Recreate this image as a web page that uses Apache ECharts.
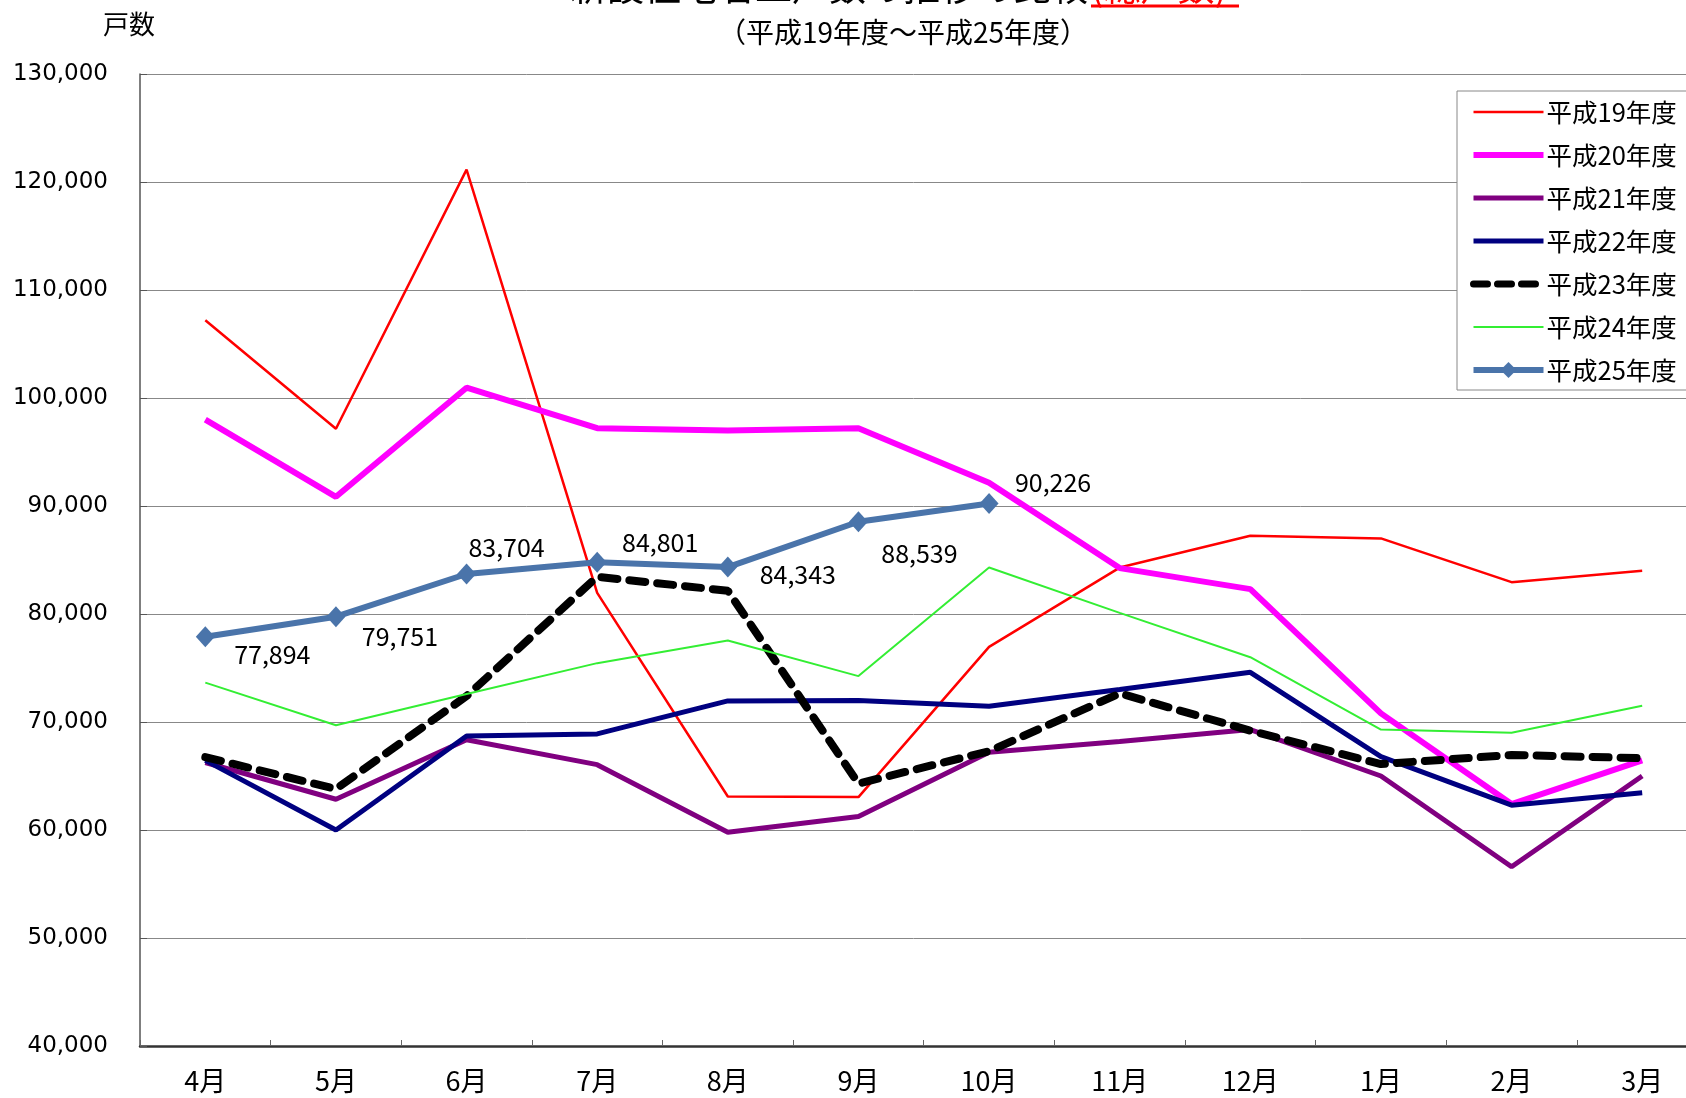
<!DOCTYPE html>
<html>
<head>
<meta charset="utf-8">
<script src="https://cdn.jsdelivr.net/npm/echarts@6/dist/echarts.min.js"></script>
<style>
html,body{margin:0;padding:0;background:#fff;}
#main{width:1686px;height:1098px;}
</style>
</head>
<body>
<div id="main"></div>
<script>
const months = ['4月','5月','6月','7月','8月','9月','10月','11月','12月','1月','2月','3月'];
const seriesNames = ['平成19年度','平成20年度','平成21年度','平成22年度','平成23年度','平成24年度','平成25年度'];
const h19 = [107200, 97150, 121150, 81950, 63100, 63050, 76950, 84300, 87250, 87000, 82950, 84000];
const h20 = [98000, 90850, 100950, 97200, 97000, 97200, 92150, 84250, 82300, 70800, 62400, 66450];
const h21 = [66250, 62850, 68350, 66050, 59800, 61250, 67200, 68200, 69300, 65000, 56600, 65000];
const h22 = [66450, 60000, 68700, 68900, 71950, 72000, 71450, 73000, 74600, 66800, 62300, 63450];
const h23 = [66750, 63800, 72400, 83450, 82150, 64300, 67300, 72650, 69200, 66100, 66950, 66650];
const h24 = [73650, 69700, 72600, 75450, 77550, 74250, 84300, 80100, 76000, 69300, 69000, 71500];
const h25 = [77894, 79751, 83704, 84801, 84343, 88539, 90226, null, null, null, null, null];
const yTicks = {min: 40000, max: 130000, step: 10000};

const labelOffsets = [[67,18],[64,20],[40,-26],[63,-20],[70,7],[61,32],[64,-21]];

const chart = echarts.init(document.getElementById('main'), null, {renderer:'canvas'});
const fmt = v => v.toString().replace(/\B(?=(\d{3})+(?!\d))/g, ',');

const styles = [
  {color: '#ff0000', width: 2.5},
  {color: '#ff00ff', width: 6},
  {color: '#800080', width: 5},
  {color: '#000080', width: 5},
  {color: '#000000', width: 8, type: [16, 12], cap: 'round'},
  {color: '#33ee33', width: 2},
  {color: '#4a74aa', width: 6}
];

function lineSeries(i, data) {
  const s = styles[i];
  return {
    name: seriesNames[i], type: 'line', data: data, symbol: 'none', showSymbol: false,
    lineStyle: Object.assign({}, s),
    itemStyle: {color: s.color},
    emphasis: {disabled: true}, animation: false, z: 2
  };
}

const legendData = seriesNames.map((n, i) => ({
  name: n,
  lineStyle: Object.assign({}, styles[i], i === 4 ? {width: 7, type: [14, 10]} : {}),
  itemStyle: i === 6 ? {color: styles[i].color, borderWidth: 0} : {color: 'rgba(0,0,0,0)', borderWidth: 0, borderColor: 'rgba(0,0,0,0)'}
}));

const option = {
  backgroundColor: '#ffffff',
  animation: false,
  grid: {left: 140, top: 74, right: -21.5, bottom: 52, containLabel: false, outerBoundsMode: 'none', show: false},
  xAxis: {
    type: 'category', data: months, boundaryGap: true,
    axisLine: {show: true, lineStyle: {color: '#333', width: 2.5}},
    axisTick: {show: true, inside: true, length: 6, lineStyle: {color: '#666', width: 1}},
    axisLabel: {color: '#000', fontSize: 27, fontFamily: 'Noto Sans CJK JP', margin: 21},
    splitLine: {show: false}
  },
  yAxis: {
    type: 'value', min: yTicks.min, max: yTicks.max, interval: yTicks.step,
    axisLine: {show: true, lineStyle: {color: '#555', width: 1.5}},
    axisTick: {show: true, inside: true, length: 7, lineStyle: {color: '#555'}},
    axisLabel: {color: '#000', fontSize: 23, fontFamily: 'DejaVu Sans', margin: 32, formatter: fmt},
    splitLine: {show: true, lineStyle: {color: '#888', width: 1}}
  },
  legend: {
    show: true, orient: 'vertical', left: 1457, top: 91,
    data: legendData,
    backgroundColor: '#fff', borderColor: '#888', borderWidth: 1,
    padding: [7, 20, 6, 13],
    itemWidth: 70, itemHeight: 20, itemGap: 15,
    textStyle: {color: '#000', fontSize: 25.5, fontFamily: 'Noto Sans CJK JP', lineHeight: 28, padding: [0,0,0,-2]},
    selectedMode: false
  },
  graphic: [
    {type: 'text', x: 570, y: 5, style: {text: '新設住宅着工戸数の推移の比較', fontSize: 37, fontFamily: 'Noto Sans CJK JP', fill: '#000', textVerticalAlign: 'bottom', textAlign: 'left'}},
    {type: 'text', x: 1091, y: 5, style: {text: '(総戸数)', fontSize: 37, fontFamily: 'Noto Sans CJK JP', fill: '#ff0000', textVerticalAlign: 'bottom', textAlign: 'left'}},
    {type: 'line', shape: {x1: 1091, y1: 6, x2: 1239, y2: 6}, style: {stroke: '#ff0000', lineWidth: 3}},
    {type: 'text', x: 903, y: 32, style: {text: '（平成19年度～平成25年度）', fontSize: 28, fontFamily: 'Noto Sans CJK JP', fill: '#000', textAlign: 'center', textVerticalAlign: 'middle'}},
    {type: 'text', x: 129, y: 24, style: {text: '戸数', fontSize: 26, fontFamily: 'Noto Sans CJK JP', fill: '#000', textAlign: 'center', textVerticalAlign: 'middle'}}
  ],
  series: [
    lineSeries(0, h19),
    lineSeries(1, h20),
    lineSeries(2, h21),
    lineSeries(3, h22),
    lineSeries(4, h23),
    lineSeries(5, h24),
    {
      name: seriesNames[6], type: 'line', z: 5, animation: false,
      data: h25.map((v, i) => v === null ? null : {value: v, label: {offset: labelOffsets[i]}}),
      symbol: 'diamond', symbolSize: [19, 21], showSymbol: true,
      lineStyle: {color: styles[6].color, width: styles[6].width},
      itemStyle: {color: styles[6].color},
      label: {show: true, position: 'inside', formatter: p => fmt(p.value), color: '#000', fontSize: 25, fontFamily: 'Noto Sans CJK JP'},
      emphasis: {disabled: true}
    }
  ]
};
chart.setOption(option);
</script>
</body>
</html>
